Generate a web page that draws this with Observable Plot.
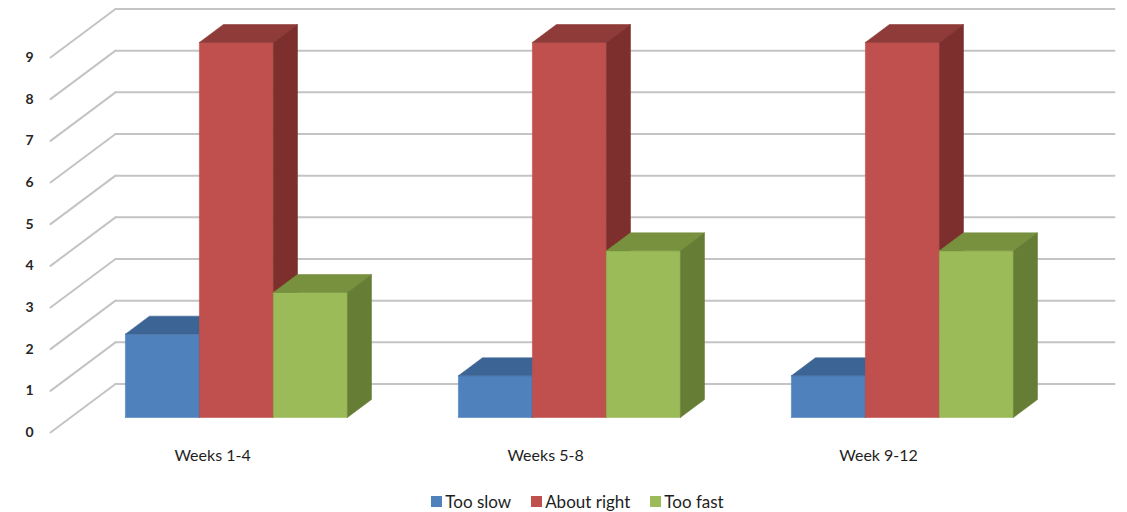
<!DOCTYPE html>
<html>
<head>
<meta charset="utf-8">
<script src="https://cdn.jsdelivr.net/npm/d3@7"></script>
<script src="https://cdn.jsdelivr.net/npm/@observablehq/plot@0.6"></script>
<style>
  body { margin: 0; background: #fff; font-family: Lato, "Open Sans", sans-serif; }
  #legend { display: flex; justify-content: center; align-items: center; height: 22px; margin-top: 10px; padding-left: 28px; font-size: 17px; color: #1e1e1e; }
  #legend .item { display: flex; align-items: center; margin: 0 10px; }
  #legend .sw { width: 11px; height: 11px; margin-right: 3px; }
</style>
</head>
<body>
<div id="chart"></div>
<div id="legend"></div>
<script>
const categories = ["Weeks 1-4", "Weeks 5-8", "Week 9-12"];
const seriesNames = ["Too slow", "About right", "Too fast"];
const tooSlow = [2, 1, 1];
const aboutRight = [9, 9, 9];
const tooFast = [3, 4, 4];
const yTicks = [0, 1, 2, 3, 4, 5, 6, 7, 8, 9];

const seriesValues = [tooSlow, aboutRight, tooFast];
const frontColors = ["#4F81BD", "#C0504D", "#9BBB59"];
const topColors = ["#3C6494", "#8E3B39", "#77913F"];
const sideColors = ["#385D8A", "#7C2F2D", "#667D35"];

// pseudo-3D projection (depth w: 0 = front plane, 1 = back wall)
const kx = 0.878, ky = 1.164;
const wf = 0.31, wb = 0.68;
const u0 = 0.74, groupStep = 4.5;
const P = (u, v, w) => ({X: u + w * kx, Y: v + w * ky});
const uMax = 13.5;

// gridlines
const grid = [];
yTicks.forEach(v => {
  grid.push({id: "l" + v, ...P(0, v, 0)}, {id: "l" + v, ...P(0, v, 1)});
  grid.push({id: "b" + v, ...P(0, v, 1)}, {id: "b" + v, ...P(uMax, v, 1)});
});

// bar faces
const faces = [];
categories.forEach((c, g) => {
  seriesValues.forEach((vals, s) => {
    const v = vals[g];
    const a = u0 + groupStep * g + s, b = a + 1;
    const id = g + "-" + s;
    const poly = (name, pts, fill) => {
      pts.concat([pts[0]]).forEach(p => faces.push({id: id + name, fill, ...p}));
    };
    poly("f", [P(a, 0, wf), P(b, 0, wf), P(b, v, wf), P(a, v, wf)], frontColors[s]);
    poly("t", [P(a, v, wf), P(b, v, wf), P(b, v, wb), P(a, v, wb)], topColors[s]);
    poly("s", [P(b, 0, wf), P(b, 0, wb), P(b, v, wb), P(b, v, wf)], sideColors[s]);
  });
});

const catLabels = categories.map((c, g) => ({label: c, ...P(u0 + groupStep * g + 1.45, 0, 0)}));

const chart = Plot.plot({
  width: 1127,
  height: 480,
  x: {domain: [0, uMax], range: [50, 50 + 74 * uMax], axis: null},
  y: {domain: [0, 9], range: [432, 57], axis: null},
  color: {type: "identity"},
  style: {fontFamily: "Lato, 'Open Sans', sans-serif", background: "#fff"},
  marks: [
    Plot.line(grid, {x: "X", y: "Y", z: "id", stroke: "#c4c4c4", strokeWidth: 2}),
    Plot.line(faces, {x: "X", y: "Y", z: "id", fill: "fill", stroke: "fill", strokeWidth: 0.6}),
    Plot.text(yTicks, {x: 0, y: d => d, dx: -17, textAnchor: "end", text: d => String(d), fontSize: 14, fontWeight: "bold", fill: "#262626"}),
    Plot.text(catLabels, {x: "X", y: "Y", dy: 23, text: "label", fontSize: 16, fill: "#1e1e1e"})
  ]
});
document.getElementById("chart").appendChild(chart);

const legend = document.getElementById("legend");
seriesNames.forEach((n, i) => {
  const it = document.createElement("div");
  it.className = "item";
  const sw = document.createElement("div");
  sw.className = "sw";
  sw.style.background = frontColors[i];
  const t = document.createElement("span");
  t.textContent = n;
  it.appendChild(sw); it.appendChild(t);
  legend.appendChild(it);
});
</script>
</body>
</html>
